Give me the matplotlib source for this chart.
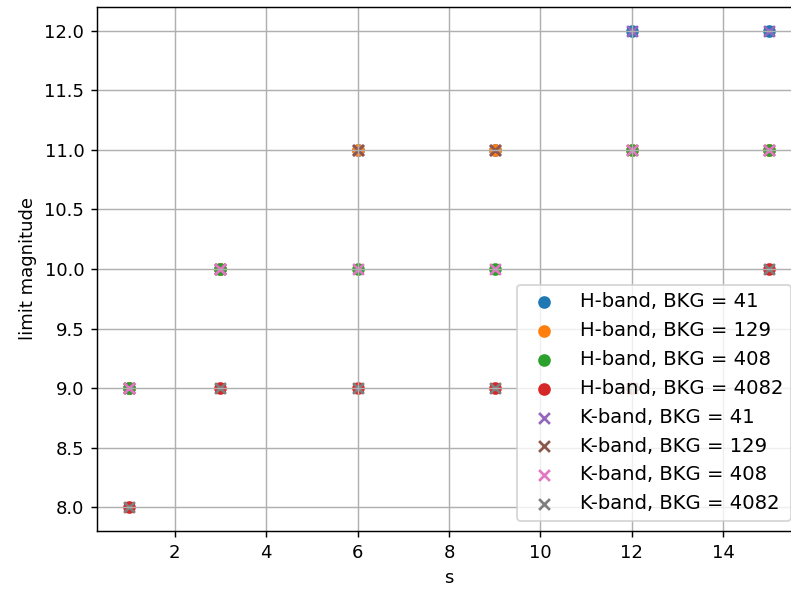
import numpy as np
import matplotlib
matplotlib.use("Agg")
import matplotlib.pyplot as plt

s_values = [1, 3, 6, 9, 12, 15]
bkg_levels = [41, 129, 408, 4082]

# limit magnitude per background level, same for both bands
h_limits = {
    41:   [9.0, 10.0, 11.0, 11.0, 12.0, 12.0],
    129:  [9.0, 10.0, 11.0, 11.0, 11.0, 11.0],
    408:  [9.0, 10.0, 10.0, 10.0, 11.0, 11.0],
    4082: [8.0, 9.0, 9.0, 9.0, 9.0, 10.0],
}
k_limits = {
    41:   [9.0, 10.0, 11.0, 11.0, 12.0, 12.0],
    129:  [9.0, 10.0, 11.0, 11.0, 11.0, 11.0],
    408:  [9.0, 10.0, 10.0, 10.0, 11.0, 11.0],
    4082: [8.0, 9.0, 9.0, 9.0, 9.0, 10.0],
}

W, H = 791, 590
dpi = 130
fig = plt.figure(figsize=(W / dpi, H / dpi), dpi=dpi)
# axes run slightly past the right edge of the canvas
ax = fig.add_axes([97 / W, 59 / H, 704 / W, 524 / H])

for bkg in bkg_levels:
    ax.scatter(s_values, h_limits[bkg], marker='o', label=f'H-band, BKG = {bkg}')
for bkg in bkg_levels:
    ax.scatter(s_values, k_limits[bkg], marker='x', label=f'K-band, BKG = {bkg}')

ax.set_xlabel('s')
ax.set_ylabel('limit magnitude')
ax.grid(True)
ax.legend(loc='lower right', fontsize=10.9)

fig.savefig('out.png', dpi=dpi)
